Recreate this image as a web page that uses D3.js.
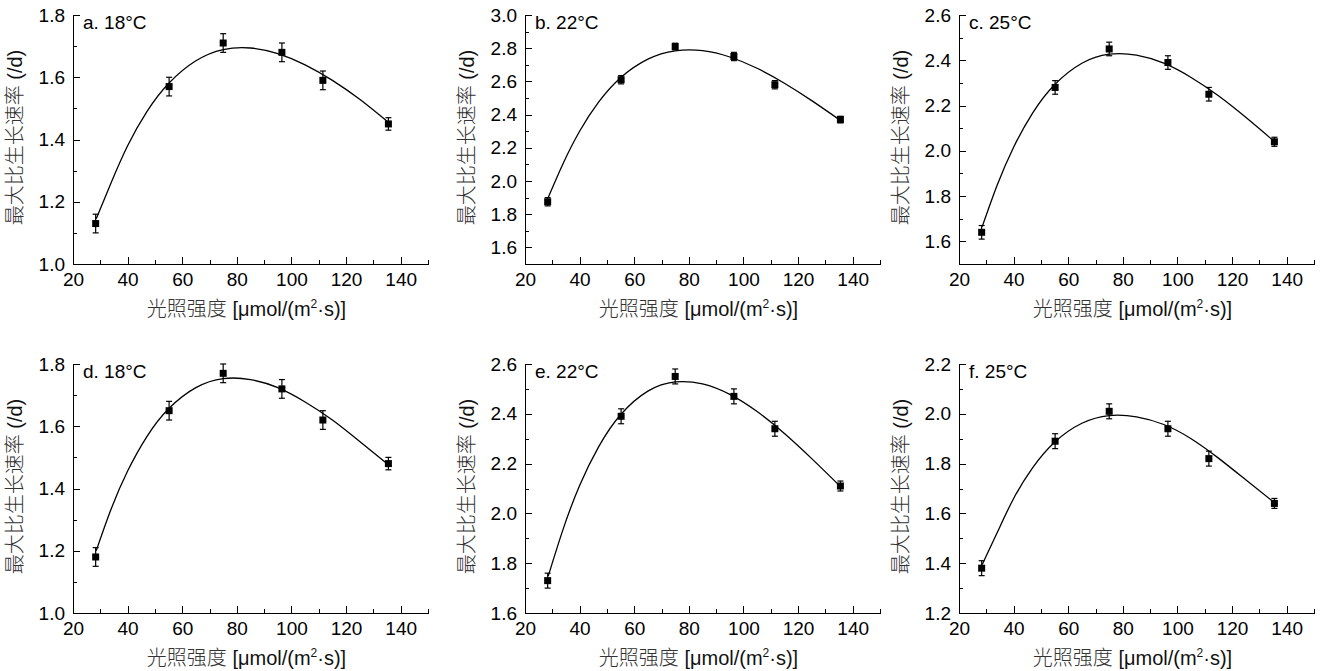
<!DOCTYPE html>
<html>
<head>
<meta charset="utf-8">
<script src="https://cdn.jsdelivr.net/npm/d3@7"></script>
<style>
  body { margin: 0; background: #fff; }
  text { font-family: "Liberation Sans", Arial, "Noto Sans CJK SC", sans-serif; }
  .axis path, .axis line { stroke: #000; stroke-width: 1; shape-rendering: crispEdges; }
  .axis text { font-size: 19px; fill: #000; }
  .cjk { font-family: "Noto Sans CJK SC", sans-serif; font-weight: 300; fill: #333; }
</style>
</head>
<body>
<svg id="chart" width="1326" height="671"></svg>
<script>
// light intensity of the six measurements (same in every panel)
const lightX = [28.3, 55.2, 75, 96.5, 111.5, 135.5];
const xTicks = [20, 40, 60, 80, 100, 120, 140];

const panelLabels = ["a. 18°C", "b. 22°C", "c. 25°C", "d. 18°C", "e. 22°C", "f. 25°C"];

// max specific growth rate (/d) and its error
const muA = [1.13, 1.57, 1.71, 1.68, 1.59, 1.45];
const muB = [1.875, 2.61, 2.81, 2.75, 2.58, 2.37];
const muC = [1.64, 2.28, 2.45, 2.39, 2.25, 2.04];
const muD = [1.18, 1.65, 1.77, 1.72, 1.62, 1.48];
const muE = [1.73, 2.39, 2.55, 2.47, 2.34, 2.11];
const muF = [1.38, 1.89, 2.01, 1.94, 1.82, 1.64];

const errA = [0.03, 0.03, 0.03, 0.03, 0.03, 0.02];
const errB = [0.025, 0.025, 0.02, 0.025, 0.025, 0.02];
const errC = [0.03, 0.03, 0.03, 0.03, 0.03, 0.02];
const errD = [0.03, 0.03, 0.03, 0.03, 0.03, 0.02];
const errE = [0.03, 0.03, 0.03, 0.03, 0.03, 0.02];
const errF = [0.03, 0.03, 0.03, 0.03, 0.03, 0.02];

// fitted curve
const fitX = [28.5, 34, 40, 47, 55, 65, 75, 85, 95, 105, 115, 125, 135.5];
const fitA = [1.145, 1.262, 1.380, 1.489, 1.580, 1.653, 1.689, 1.694, 1.676, 1.640, 1.590, 1.529, 1.455];
const fitB = [1.900, 2.107, 2.300, 2.476, 2.622, 2.734, 2.784, 2.785, 2.747, 2.679, 2.589, 2.484, 2.365];
const fitC = [1.665, 1.849, 2.016, 2.168, 2.292, 2.387, 2.427, 2.423, 2.387, 2.324, 2.243, 2.148, 2.041];
const fitD = [1.200, 1.335, 1.456, 1.566, 1.656, 1.724, 1.753, 1.750, 1.724, 1.678, 1.620, 1.551, 1.476];
const fitE = [1.748, 1.938, 2.112, 2.268, 2.396, 2.491, 2.528, 2.520, 2.478, 2.409, 2.321, 2.220, 2.108];
const fitF = [1.395, 1.523, 1.660, 1.784, 1.886, 1.962, 1.993, 1.988, 1.957, 1.900, 1.822, 1.735, 1.643];

const yDomains = [[1.0, 1.8], [1.5, 3.0], [1.5, 2.6], [1.0, 1.8], [1.6, 2.6], [1.2, 2.2]];
const yTicks = [
  [1.0, 1.2, 1.4, 1.6, 1.8],
  [1.6, 1.8, 2.0, 2.2, 2.4, 2.6, 2.8, 3.0],
  [1.6, 1.8, 2.0, 2.2, 2.4, 2.6],
  [1.0, 1.2, 1.4, 1.6, 1.8],
  [1.6, 1.8, 2.0, 2.2, 2.4, 2.6],
  [1.2, 1.4, 1.6, 1.8, 2.0, 2.2]
];

const allMu = [muA, muB, muC, muD, muE, muF];
const allErr = [errA, errB, errC, errD, errE, errF];
const allFit = [fitA, fitB, fitC, fitD, fitE, fitF];

const svg = d3.select("#chart");
const colX = [73, 525, 959];
const rowY = [15, 364];
const pw = 355, ph = 249;

function drawPanel(i) {
    const left = colX[i % 3];
    const top = rowY[Math.floor(i / 3)];

    const x = d3.scaleLinear().domain([20, 150]).range([0, pw]);
    const y = d3.scaleLinear().domain(yDomains[i]).range([ph, 0]);

    const g = svg.append("g").attr("transform", `translate(${left},${top})`);

    // minor ticks first
    const xMinor = d3.range(30, 151, 20);
    const lo = Math.round(yDomains[i][0] * 10), hi = Math.round(yDomains[i][1] * 10);
    const yMinor = d3.range(lo, hi + 1).map(v => v / 10)
        .filter(v => !yTicks[i].some(t => Math.abs(t - v) < 1e-6));

    g.append("g").attr("class", "axis")
        .attr("transform", `translate(0,${ph})`)
        .call(d3.axisBottom(x).tickValues(xMinor).tickSize(-4).tickSizeOuter(0).tickFormat(""));
    g.append("g").attr("class", "axis")
        .call(d3.axisLeft(y).tickValues(yMinor).tickSize(-4).tickSizeOuter(0).tickFormat(""));

    g.append("g").attr("class", "axis")
        .attr("transform", `translate(0,${ph})`)
        .call(d3.axisBottom(x).tickValues(xTicks).tickSize(-7).tickSizeOuter(0).tickPadding(9).tickFormat(d3.format("d")));
    g.append("g").attr("class", "axis")
        .call(d3.axisLeft(y).tickValues(yTicks[i]).tickSize(-7).tickSizeOuter(0).tickPadding(8).tickFormat(d3.format(".1f")));

    // fitted curve
    const line = d3.line()
        .x((d, k) => x(fitX[k]))
        .y(d => y(d))
        .curve(d3.curveNatural);
    g.append("path")
        .attr("d", line(allFit[i]))
        .attr("fill", "none")
        .attr("stroke", "#000")
        .attr("stroke-width", 1.3);

    // error bars
    const pts = lightX.map((lx, k) => ({ x: lx, mu: allMu[i][k], e: allErr[i][k] }));
    const eb = g.selectAll("g.eb").data(pts).enter().append("g").attr("class", "eb")
        .attr("stroke", "#000").attr("stroke-width", 1.2);
    eb.append("line")
        .attr("x1", d => x(d.x)).attr("x2", d => x(d.x))
        .attr("y1", d => y(d.mu - d.e)).attr("y2", d => y(d.mu + d.e));
    eb.append("line")
        .attr("x1", d => x(d.x) - 3).attr("x2", d => x(d.x) + 3)
        .attr("y1", d => y(d.mu + d.e)).attr("y2", d => y(d.mu + d.e));
    eb.append("line")
        .attr("x1", d => x(d.x) - 3).attr("x2", d => x(d.x) + 3)
        .attr("y1", d => y(d.mu - d.e)).attr("y2", d => y(d.mu - d.e));

    // square markers
    g.selectAll("rect.pt").data(pts).enter().append("rect")
        .attr("class", "pt")
        .attr("x", d => x(d.x) - 3.5)
        .attr("y", d => y(d.mu) - 3.5)
        .attr("width", 7)
        .attr("height", 7)
        .attr("fill", "#000");

    // panel label
    g.append("text")
        .attr("x", 10)
        .attr("y", 14)
        .attr("font-size", 19)
        .text(panelLabels[i]);

    // axis titles
    const xt = g.append("text")
        .attr("x", pw / 2 - 4)
        .attr("y", ph + 52)
        .attr("text-anchor", "middle")
        .attr("font-size", 20)
        .attr("fill", "#111");
    xt.append("tspan").attr("class", "cjk").text("光照强度");
    xt.append("tspan").text(" [μmol/(m");
    xt.append("tspan").attr("dy", -8).attr("font-size", 12).text("2");
    xt.append("tspan").attr("dy", 8).text("·s)]");

    const yt = g.append("text")
        .attr("transform", `translate(-51,${ph / 2 - 2})rotate(-90)`)
        .attr("text-anchor", "middle")
        .attr("font-size", 20)
        .attr("fill", "#111");
    yt.append("tspan").attr("class", "cjk").text("最大比生长速率");
    yt.append("tspan").text(" (/d)");
}

for (let i = 0; i < 6; i++) drawPanel(i);
</script>
</body>
</html>
